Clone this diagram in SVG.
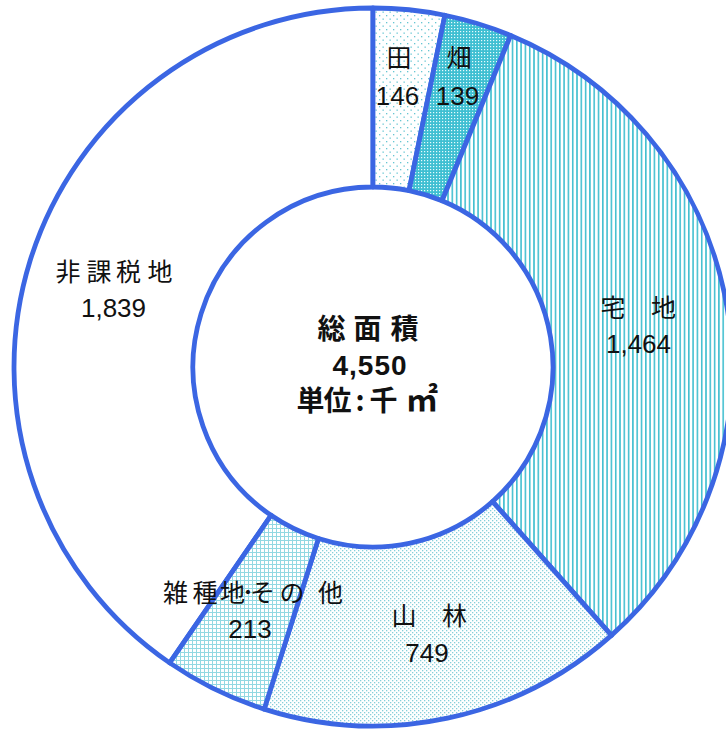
<svg xmlns="http://www.w3.org/2000/svg" width="726" height="731" viewBox="0 0 726 731">
<style>
.seg{stroke:#3b66e3;stroke-width:4.8;stroke-linejoin:round}
.lbl{font-family:"Noto Sans CJK JP","Liberation Sans",sans-serif;font-size:25px;fill:#111;text-anchor:middle}
.num{font-family:"Liberation Sans","Noto Sans CJK JP",sans-serif;font-size:26px;fill:#111;text-anchor:middle}
.ctr{font-family:"Noto Sans CJK JP","Liberation Sans",sans-serif;font-size:28px;font-weight:bold;fill:#111;text-anchor:middle}
.ctrn{font-family:"Liberation Sans","Noto Sans CJK JP",sans-serif;font-size:28px;font-weight:bold;fill:#111;text-anchor:middle}
</style>
<defs>
<pattern id="pTa" width="7" height="7" patternUnits="userSpaceOnUse">
<rect width="7" height="7" fill="#fff"/>
<rect x="1" y="1" width="1.3" height="1.3" fill="#66c6d2"/>
<rect x="4.5" y="4.5" width="1.3" height="1.3" fill="#66c6d2"/>
</pattern>
<pattern id="pHata" width="3" height="3" patternUnits="userSpaceOnUse">
<rect width="3" height="3" fill="#3fbfd2"/>
<rect x="1" y="1" width="1.2" height="1.2" fill="#e8fbfd"/>
</pattern>
<pattern id="pTaku" width="4.3" height="4" patternUnits="userSpaceOnUse">
<rect width="4.3" height="4" fill="#fff"/>
<rect x="0" y="0" width="1.6" height="4" fill="#42bfd0"/>
</pattern>
<pattern id="pSan" width="4" height="4" patternUnits="userSpaceOnUse">
<rect width="4" height="4" fill="#fff"/>
<rect x="0" y="0" width="1.3" height="1.3" fill="#86cfda"/>
<rect x="2" y="2" width="1.3" height="1.3" fill="#86cfda"/>
</pattern>
<pattern id="pZatsu" width="4" height="4" patternUnits="userSpaceOnUse">
<rect width="4" height="4" fill="#fff"/>
<rect x="0" y="0" width="4" height="1" fill="#92d8e2"/>
<rect x="0" y="0" width="1" height="4" fill="#92d8e2"/>
</pattern>
</defs>
<rect width="726" height="731" fill="#fff"/>

<g id="hikazeichi">
<path class="seg" fill="#fff" d="M169.68,662.87 A359,359 0 0 1 373,8 L373,187 A180,180 0 0 0 271.06,515.35 Z"/>
<text class="lbl" x="68 99 128.5 160" y="281">非課税地</text>
<text class="num" x="113.5" y="317">1,839</text>
</g>

<g id="ta">
<path class="seg" fill="url(#pTa)" d="M373,8 A359,359 0 0 1 444.89,15.27 L409.05,190.65 A180,180 0 0 0 373,187 Z"/>
<text class="lbl" x="399" y="67">田</text>
<text class="num" x="397.5" y="105">146</text>
</g>

<g id="hata">
<path class="seg" fill="url(#pHata)" d="M444.89,15.27 A359,359 0 0 1 510.67,35.45 L442.03,200.76 A180,180 0 0 0 409.05,190.65 Z"/>
<text class="lbl" x="459" y="67">畑</text>
<text class="num" x="457.5" y="105">139</text>
</g>

<g id="takuchi">
<path class="seg" fill="url(#pTaku)" d="M510.67,35.45 A359,359 0 0 1 611.43,635.39 L492.55,501.57 A180,180 0 0 0 442.03,200.76 Z"/>
<text class="lbl" x="613 638 663.5" y="317">宅　地</text>
<text class="num" x="638.5" y="353">1,464</text>
</g>

<g id="sanrin">
<path class="seg" fill="url(#pSan)" d="M611.43,635.39 A359,359 0 0 1 264.18,709.11 L318.44,538.53 A180,180 0 0 0 492.55,501.57 Z"/>
<text class="lbl" x="404 429 454.5" y="625">山　林</text>
<text class="num" x="427" y="662">749</text>
</g>

<g id="zasshuchi">
<path class="seg" fill="url(#pZatsu)" d="M264.18,709.11 A359,359 0 0 1 169.68,662.87 L271.06,515.35 A180,180 0 0 0 318.44,538.53 Z"/>
<text class="lbl" x="175.5 205 232.5 248 262.5 292 330.5" y="602">雑種地･その他</text>
<text class="num" x="250" y="638">213</text>
</g>

<g id="total">
<text class="ctr" x="331.5 367.5 404.5" y="339">総面積</text>
<text class="ctrn" x="370" y="375" letter-spacing="1">4,550</text>
<text class="ctr" x="310.5 337.5 360 383.5" y="411">単位:千<tspan x="422" font-size="32px">㎡</tspan></text>
</g>
</svg>
